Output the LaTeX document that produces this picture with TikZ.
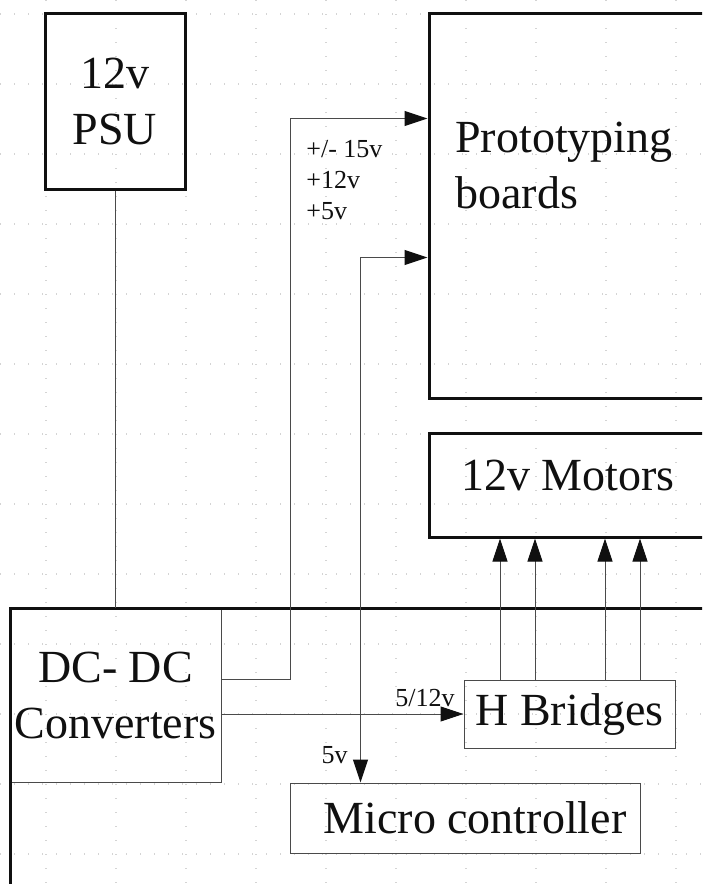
\documentclass[tikz,border=0pt]{standalone}
\usepackage{fontspec}
\setmainfont{Liberation Serif}
\usetikzlibrary{positioning,arrows.meta,calc}
\definecolor{ink}{HTML}{101010}
\definecolor{wire}{HTML}{4A4A4A}
\definecolor{dots}{HTML}{D4D4D4}
\tikzset{
  bigtxt/.style={font=\fontsize{23}{28}\selectfont, text=ink},
  lbl/.style={font=\fontsize{13}{15.5}\selectfont, text=ink, inner sep=0pt},
  heavy/.style={draw=ink, line width=1.5pt, bigtxt, align=center, inner sep=0pt},
  light/.style={draw=wire, line width=0.5pt, bigtxt, align=center, inner sep=0pt},
  lead/.style={draw=wire, line width=0.5pt},
  pwr/.style={lead, -{Triangle[length=11.5pt,width=7.5pt,color=ink]}},
  pwr2/.style={lead, {Triangle[length=11.5pt,width=7.5pt,color=ink]}-{Triangle[length=11.5pt,width=7.5pt,color=ink]}},
  griddot/.style={draw=dots, line width=0.6pt, dash pattern=on 0.6pt off 6.4pt},
}

\begin{document}
\begin{tikzpicture}[x=0.5pt,y=-0.5pt]
\fill[white] (0,0) rectangle (702,884);
\useasboundingbox (0,0) rectangle (702,884);
\clip (0,0) rectangle (702,884);
% ---- faint sheet grid ----
\foreach \gx in {46,116,...,676} \draw[griddot] (\gx,0) -- (\gx,884);
\foreach \gy in {14,84,...,854} \draw[griddot] (0,\gy) -- (702,\gy);
% ---- blocks ----
\node[heavy, minimum width=70pt, minimum height=88pt] (psu) at (115,101) {12v\\PSU};
\node[heavy, minimum width=165.5pt, minimum height=192.5pt] (proto) at (594.5,205.5) {};
\node[bigtxt, align=left, anchor=north west, inner sep=0pt] (protolbl) at (455,122) {Prototyping\\boards};
\node[heavy, minimum width=139pt, minimum height=52pt] (motors) at (568,485) {};
\node[bigtxt, anchor=base, inner sep=0pt] (motorslbl) at (568,490) {12v Motors};
\node[light, minimum width=105.5pt, minimum height=87pt] (dcdc) at (115.5,695) {DC- DC\\Converters};
\node[light, minimum width=105.5pt, minimum height=34pt] (hbr) at (569.5,714) {H Bridges};
\node[light, minimum width=175pt, minimum height=35pt] (mcu) at (465,818) {\hspace*{10pt}Micro controller};
% main board outline (runs off the sheet)
\node[draw=ink, line width=1.5pt, minimum width=375pt, minimum height=166pt] (board) at (385,774) {};
% ---- supply wiring ----
\draw[lead] (psu.south) -- (psu.south |- dcdc.north);
\draw[pwr] ([yshift=8pt]dcdc.east) -- ++(69,0) |- ([yshift=-53.5pt]proto.north west);
\draw[pwr2] ([xshift=35.5pt]mcu.north west) |- ([yshift=-123pt]proto.north west);
\draw[pwr] (dcdc.east |- hbr.west) -- (hbr.west);
\foreach \dx in {-34.75,-17.25,17.75,35.25}
  \draw[pwr] ([xshift=\dx pt]hbr.north) -- ([xshift=\dx pt]hbr.north |- motors.south);
% ---- rail labels ----
\node[lbl, align=left, anchor=north west] (rails) at (306,140) {+/- 15v\\+12v\\+5v};
\node[lbl, anchor=base east] (hbrv) at (455,706) {5/12v};
\node[lbl, anchor=base east] (mcuv) at (348,763) {5v};
\end{tikzpicture}
\end{document}
